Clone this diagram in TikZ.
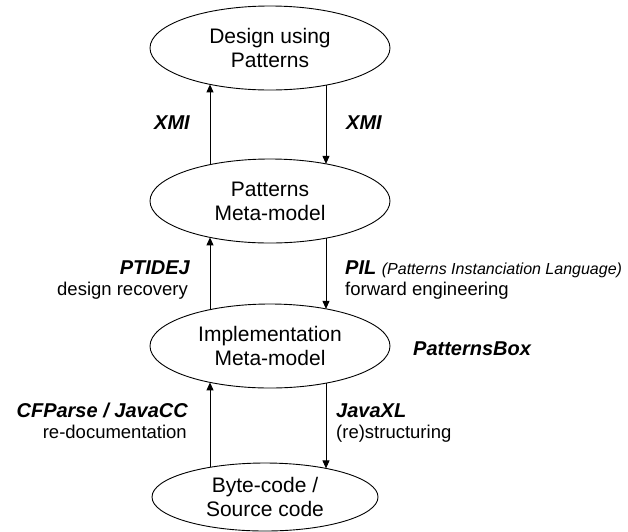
\documentclass[tikz,border=0pt]{standalone}
\usepackage{fontspec}
\setmainfont{Liberation Sans}
\usetikzlibrary{shapes.geometric,arrows.meta}
\begin{document}
\begin{tikzpicture}[x=1pt,y=-1pt,
  model/.style={draw, ellipse, line width=0.9pt, inner sep=0pt,
    minimum width=240pt, minimum height=84pt, align=center,
    font=\fontsize{21}{24}\selectfont},
  flow/.style={line width=0.9pt, -{Triangle[length=8pt,width=7pt]}},
  tool/.style={font=\fontsize{20}{24}\selectfont\bfseries\itshape, inner sep=0pt},
  role/.style={font=\fontsize{18.5}{22}\selectfont, inner sep=0pt}]
\useasboundingbox (0,0) rectangle (628,531);

% the four levels of models
\node[model] (e1) at (270,48)  {Design using\\Patterns};
\node[model] (e2) at (270,201) {Patterns\\Meta-model};
\node[model] (e3) at (270,346) {Implementation\\Meta-model};
\node[model, minimum width=226pt, minimum height=68pt] (e4) at (265,497) {Byte-code /\\Source code};

% points where the vertical connectors meet the ellipse borders
\coordinate (e1l) at ([shift={(-60,36.4)}]e1.center);
\coordinate (e1r) at ([shift={(56,37.1)}]e1.center);
\coordinate (e2tl) at ([shift={(-60,-36.4)}]e2.center);
\coordinate (e2tr) at ([shift={(56,-37.1)}]e2.center);
\coordinate (e2bl) at ([shift={(-60,36.4)}]e2.center);
\coordinate (e2br) at ([shift={(56,37.1)}]e2.center);
\coordinate (e3tl) at ([shift={(-60,-36.4)}]e3.center);
\coordinate (e3tr) at ([shift={(56,-37.1)}]e3.center);
\coordinate (e3bl) at ([shift={(-60,36.4)}]e3.center);
\coordinate (e3br) at ([shift={(56,37.1)}]e3.center);
\coordinate (e4l) at ([shift={(-55,-29.7)}]e4.center);
\coordinate (e4r) at ([shift={(61,-28.6)}]e4.center);

% upward (reverse) and downward (forward) transformations
\draw[flow] (e2tl) -- (e1l);
\draw[flow] (e1r) -- (e2tr);
\draw[flow] (e3tl) -- (e2bl);
\draw[flow] (e2br) -- (e3tr);
\draw[flow] (e4l) -- (e3bl);
\draw[flow] (e3br) -- (e4r);

% labels
\node[tool, anchor=base east] (x1) at (190,129) {XMI};
\node[tool, anchor=base west] (x2) at (346,129) {XMI};
\node[tool, anchor=base east] (t1) at (190,274) {PTIDEJ};
\node[role, anchor=base east] (r1) at (188,295) {design recovery};
\node[tool, anchor=base west] (t2) at (345,274) {PIL {\fontsize{16}{18}\selectfont\mdseries(Patterns Instanciation Language)}};
\node[role, anchor=base west] (r2) at (345,295) {forward engineering};
\node[tool, anchor=base west] (pb) at (413,355) {PatternsBox};
\node[tool, anchor=base east] (t3) at (188,417) {CFParse / JavaCC};
\node[role, anchor=base east] (r3) at (187,438) {re-documentation};
\node[tool, anchor=base west] (t4) at (336,417) {JavaXL};
\node[role, anchor=base west] (r4) at (336,438) {(re)structuring};
\end{tikzpicture}
\end{document}
